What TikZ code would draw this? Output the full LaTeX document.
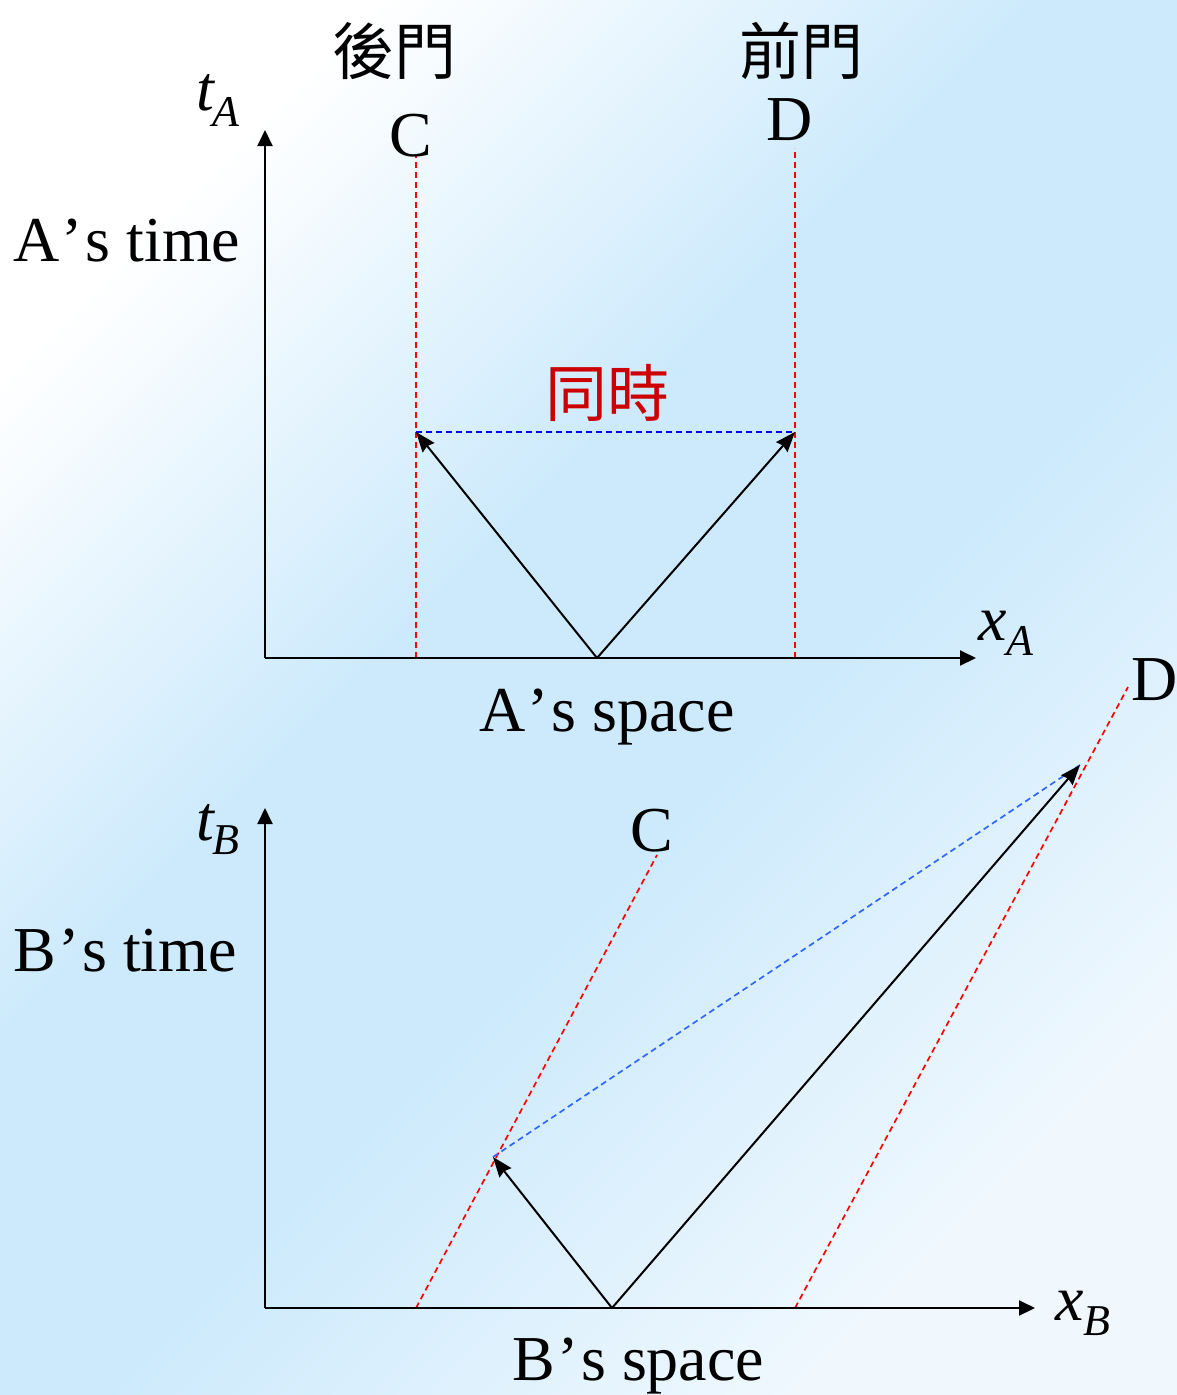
\documentclass[tikz,border=0pt]{standalone}
\usepackage{fontspec}
\setmainfont{Liberation Serif}
\newfontfamily\cjkfont{Noto Sans CJK TC}
\usetikzlibrary{arrows.meta}
\definecolor{bgblue}{RGB}{205,234,252}
\definecolor{bgend}{RGB}{240,248,254}
\definecolor{simred}{RGB}{204,0,0}
\definecolor{lightblue}{RGB}{51,102,255}
\pgfdeclareverticalshading{bgshade}{100bp}{color(0bp)=(bgend); color(25bp)=(bgend); color(44bp)=(bgblue); color(57bp)=(bgblue); color(75bp)=(white); color(100bp)=(white)}
\newcommand{\apos}{\kern2.5pt’\kern2.5pt}
\begin{document}
\begin{tikzpicture}[x=1pt,y=-1pt,
  axis/.style={line width=2pt, -{Triangle[length=16pt,width=15pt]}},
  ray/.style={line width=2pt, -{Stealth[length=20pt,width=15pt,inset=2pt]}},
  wline/.style={red, line width=1.7pt, dash pattern=on 6pt off 4pt},
  sim/.style={line width=1.7pt, dash pattern=on 6pt off 4pt},
  lbl/.style={inner sep=0pt, font=\fontsize{64}{70}\selectfont},
  cjk/.style={inner sep=0pt, font=\cjkfont\fontsize{62}{70}\selectfont},
]
\shade[shading=bgshade, shading angle=45] (0,0) rectangle (1177,1395);
\useasboundingbox (0,0) rectangle (1177,1395);

% ---------- top diagram (A) ----------
\coordinate (O1) at (265,658);
\coordinate (tAtip) at (265,130);
\coordinate (xAtip) at (976,658);
\coordinate (P1) at (597,658);
\coordinate (CA) at (416,432);
\coordinate (DA) at (795,432);
\coordinate (CAtop) at (416,155);
\coordinate (CAbot) at (416,658);
\coordinate (DAtop) at (795,148);
\coordinate (DAbot) at (795,658);

\draw[wline] (CAbot) -- (CAtop);
\draw[wline] (DAbot) -- (DAtop);
\draw[sim, blue] (CA) -- (DA);
\draw[axis] (O1) -- (tAtip);
\draw[axis] (O1) -- (xAtip);
\draw[ray] (P1) -- (CA);
\draw[ray] (P1) -- (DA);

\node[cjk] (back) at (394,51) {後門};
\node[cjk] (front) at (801,51) {前門};
\node[lbl, anchor=base] (Clab) at (411,156) {C};
\node[lbl, anchor=base] (Dlab) at (790,140) {D};
\node[cjk, text=simred] (simul) at (607,393) {同時};
\node[lbl, anchor=base west] (tA) at (196,110) {\textit{t}\kern-3pt\raisebox{-16pt}{\fontsize{44}{44}\selectfont\textit{A}}};
\node[lbl, anchor=base west] (xA) at (978,640) {\textit{x}\raisebox{-15pt}{\fontsize{44}{44}\selectfont\textit{A}}};
\node[lbl, anchor=base west] (Atime) at (13,261) {A\apos s time};
\node[lbl, anchor=base] (Aspace) at (607,731) {A\apos s space};

% ---------- bottom diagram (B) ----------
\coordinate (O2) at (265,1308);
\coordinate (tBtip) at (265,808);
\coordinate (xBtip) at (1035,1308);
\coordinate (P2) at (612,1308);
\coordinate (CB) at (493,1157);
\coordinate (DB) at (1080,765);
\coordinate (CBbot) at (416,1308);
\coordinate (CBtop) at (657,855);
\coordinate (DBbot) at (795,1308);
\coordinate (DBtop) at (1128,687);

\draw[wline] (CBbot) -- (CBtop);
\draw[wline] (DBbot) -- (DBtop);
\draw[sim, lightblue] (CB) -- (DB);
\draw[axis] (O2) -- (tBtip);
\draw[axis] (O2) -- (xBtip);
\draw[ray] (P2) -- (CB);
\draw[ray] (P2) -- (DB);

\node[lbl, anchor=base] (Clab2) at (652,851) {C};
\node[lbl, anchor=base] (Dlab2) at (1155,700) {D};
\node[lbl, anchor=base west] (tB) at (196,840) {\textit{t}\kern-3pt\raisebox{-14pt}{\fontsize{44}{44}\selectfont\textit{B}}};
\node[lbl, anchor=base west] (xB) at (1055,1320) {\textit{x}\raisebox{-15pt}{\fontsize{44}{44}\selectfont\textit{B}}};
\node[lbl, anchor=base west] (Btime) at (13,971) {B\apos s time};
\node[lbl, anchor=base west] (Bspace) at (512,1380) {B\apos s space};
\end{tikzpicture}
\end{document}
